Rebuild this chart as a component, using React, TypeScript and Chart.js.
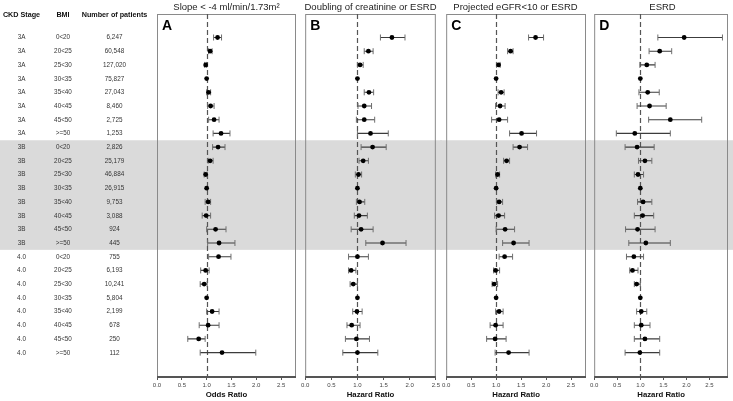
import React, { useEffect, useRef } from 'react';
import { Chart, registerables } from 'chart.js';

Chart.register(...registerables);

// ---------- data ----------
const stages = ['3A','3A','3A','3A','3A','3A','3A','3A','3B','3B','3B','3B','3B','3B','3B','3B','4.0','4.0','4.0','4.0','4.0','4.0','4.0','4.0'];
const bmiGroups = ['0<20','20<25','25<30','30<35','35<40','40<45','45<50','>=50','0<20','20<25','25<30','30<35','35<40','40<45','45<50','>=50','0<20','20<25','25<30','30<35','35<40','40<45','45<50','>=50'];
const patients = ['6,247','60,548','127,020','75,827','27,043','8,460','2,725','1,253','2,826','25,179','46,884','26,915','9,753','3,088','924','445','755','6,193','10,241','5,804','2,199','678','250','112'];

const slopeEst = [1.22,1.07,0.98,1,1.04,1.08,1.15,1.29, 1.23,1.07,0.98,1,1.03,0.99,1.18,1.25, 1.24,0.98,0.95,1,1.11,1.03,0.84,1.31];
const slopeLo = [1.14,1.04,0.96,null,1.00,1.02,1.04,1.13, 1.12,1.03,0.95,null,0.97,0.91,1.00,1.02, 1.04,0.88,0.87,null,1.00,0.85,0.62,0.87];
const slopeHi = [1.30,1.11,1.00,null,1.08,1.15,1.25,1.47, 1.37,1.13,1.01,null,1.08,1.08,1.39,1.57, 1.49,1.05,1.01,null,1.25,1.25,0.97,1.99];

const doublingEst = [1.66,1.21,1.05,1,1.22,1.13,1.13,1.25, 1.29,1.11,1.02,1,1.04,1.03,1.07,1.48, 1.0,0.88,0.92,1,0.99,0.89,0.98,1.0];
const doublingLo = [1.44,1.13,1.00,null,1.13,1.01,0.98,1.00, 1.07,1.03,0.96,null,0.98,0.94,0.88,1.16, 0.83,0.83,0.86,null,0.91,0.80,0.77,0.72];
const doublingHi = [1.91,1.30,1.11,null,1.31,1.27,1.33,1.59, 1.55,1.21,1.08,null,1.14,1.19,1.30,1.93, 1.21,0.97,1.00,null,1.09,1.05,1.23,1.39];

const egfrEst = [1.79,1.29,1.05,1,1.10,1.08,1.06,1.51, 1.47,1.21,1.03,1,1.06,1.05,1.18,1.35, 1.17,0.99,0.96,1,1.06,0.99,0.98,1.25];
const egfrLo = [1.65,1.23,1.01,null,1.04,0.99,0.91,1.27, 1.34,1.15,0.99,null,1.01,0.97,1.00,1.13, 1.06,0.95,0.92,null,0.99,0.88,0.81,0.98];
const egfrHi = [1.95,1.34,1.08,null,1.16,1.18,1.23,1.81, 1.63,1.27,1.07,null,1.13,1.17,1.37,1.66, 1.33,1.07,1.03,null,1.14,1.14,1.20,1.66];

const esrdEst = [1.95,1.42,1.14,1,1.16,1.20,1.65,0.88, 0.93,1.10,0.95,1,1.06,1.05,0.94,1.12, 0.86,0.83,0.92,1,1.02,1.02,1.10,0.99];
const esrdLo = [1.38,1.19,0.99,null,0.97,0.93,1.18,0.48, 0.67,0.96,0.87,null,0.94,0.87,0.68,0.75, 0.70,0.77,0.87,null,0.92,0.87,0.87,0.67];
const esrdHi = [2.78,1.68,1.32,null,1.41,1.56,2.33,1.65, 1.30,1.25,1.07,null,1.25,1.29,1.32,1.65, 1.07,0.95,1.00,null,1.14,1.21,1.42,1.42];

const headers = ['CKD Stage', 'BMI', 'Number of patients'];

// ---------- style ----------
const FONT = "'Liberation Sans', Arial, Helvetica, sans-serif";
const Y_MIN = -1.715;
const Y_MAX = 24.78;
const BAND = '#dadada';

type Panel = {
  letter: string;
  title: string;
  xTitle: string;
  est: number[];
  lo: (number | null)[];
  hi: (number | null)[];
  xMax: number;
  left: number;
  width: number;
  padL: number;
  padR: number;
  table?: boolean;
};

const panels: Panel[] = [
  { letter: 'A', title: 'Slope < -4 ml/min/1.73m\u00b2', xTitle: 'Odds Ratio', est: slopeEst, lo: slopeLo, hi: slopeHi, xMax: 2.8, left: 0, width: 301, padL: 157, padR: 5, table: true },
  { letter: 'B', title: 'Doubling of creatinine or ESRD', xTitle: 'Hazard Ratio', est: doublingEst, lo: doublingLo, hi: doublingHi, xMax: 2.5, left: 299, width: 143, padL: 5, padR: 5 },
  { letter: 'C', title: 'Projected eGFR<10 or ESRD', xTitle: 'Hazard Ratio', est: egfrEst, lo: egfrLo, hi: egfrHi, xMax: 2.8, left: 440, width: 151, padL: 5, padR: 5 },
  { letter: 'D', title: 'ESRD', xTitle: 'Hazard Ratio', est: esrdEst, lo: esrdLo, hi: esrdHi, xMax: 2.9, left: 588, width: 145, padL: 5, padR: 1 },
];

function buildDatasets(est: number[], lo: (number | null)[], hi: (number | null)[]) {
  const ci: any[] = [];
  const caps: any[] = [];
  const pts: any[] = [];
  est.forEach((v, i) => {
    pts.push({ x: v, y: i });
    const l = lo[i];
    const h = hi[i];
    if (l != null && h != null) {
      ci.push({ x: l, y: i }, { x: h, y: i }, { x: h, y: null });
      caps.push({ x: l, y: i }, { x: h, y: i });
    }
  });
  return [
    { type: 'line', data: ci, borderColor: '#3c3c3c', borderWidth: 1.1, pointRadius: 0, spanGaps: false, fill: false, order: 3 },
    { type: 'scatter', data: caps, pointStyle: 'line', pointRotation: 90, pointRadius: 3, pointBorderColor: '#6e6e6e', pointBorderWidth: 1, order: 2 },
    { type: 'scatter', data: pts, pointStyle: 'circle', pointRadius: 2.4, pointBackgroundColor: '#000', pointBorderColor: '#000', pointBorderWidth: 0, order: 1 },
  ];
}

function narrowText(ctx: CanvasRenderingContext2D, text: string, x: number, y: number, sx: number) {
  ctx.save();
  ctx.translate(x, y);
  ctx.scale(sx, 1);
  ctx.fillText(text, 0, 0);
  ctx.restore();
}

const decorPlugin = {
  id: 'decor',
  beforeDraw(chart: any) {
    const { ctx } = chart;
    const y = chart.scales.y;
    const y1 = y.getPixelForValue(7.5);
    const y2 = y.getPixelForValue(15.5);
    ctx.save();
    ctx.fillStyle = BAND;
    ctx.fillRect(0, y1, chart.width, y2 - y1);
    ctx.restore();
  },
  beforeDatasetsDraw(chart: any) {
    const { ctx, chartArea } = chart;
    const x = chart.scales.x;
    const { left, right, top, bottom } = chartArea;
    ctx.save();
    ctx.strokeStyle = '#8a8a8a';
    ctx.lineWidth = 1;
    ctx.strokeRect(left + 0.5, top + 0.5, right - left - 1, bottom - top);
    ctx.strokeStyle = '#555';
    ctx.lineWidth = 2;
    ctx.beginPath();
    ctx.moveTo(left, bottom);
    ctx.lineTo(right, bottom);
    ctx.stroke();
    const xp = Math.round(x.getPixelForValue(1)) + 0.5;
    ctx.strokeStyle = '#555';
    ctx.lineWidth = 1.2;
    ctx.setLineDash([5, 3]);
    ctx.beginPath();
    ctx.moveTo(xp, top);
    ctx.lineTo(xp, bottom);
    ctx.stroke();
    ctx.restore();
  },
  afterDraw(chart: any, _args: any, opts: any) {
    const { ctx, chartArea } = chart;
    ctx.save();
    ctx.fillStyle = '#000';
    ctx.font = `bold 14px ${FONT}`;
    ctx.textBaseline = 'alphabetic';
    ctx.textAlign = 'left';
    ctx.fillText(opts.letter, chartArea.left + 5, chartArea.top + 15.5);
    if (opts.table) {
      const y = chart.scales.y;
      const cols = [21.5, 63, 114.5];
      ctx.textAlign = 'center';
      ctx.textBaseline = 'middle';
      ctx.font = `bold 8px ${FONT}`;
      ctx.fillStyle = '#111';
      headers.forEach((h, k) => narrowText(ctx, h, cols[k], 14.5, 0.9));
      ctx.font = `7.2px ${FONT}`;
      ctx.fillStyle = '#333';
      stages.forEach((s, i) => {
        const yp = y.getPixelForValue(i);
        narrowText(ctx, s, cols[0], yp, 0.88);
        narrowText(ctx, bmiGroups[i], cols[1], yp, 0.88);
        narrowText(ctx, patients[i], cols[2], yp, 0.88);
      });
    }
    ctx.restore();
  },
};

function PanelChart({ p }: { p: Panel }) {
  const ref = useRef<HTMLCanvasElement | null>(null);
  useEffect(() => {
    if (!ref.current) return;
    const chart = new Chart(ref.current, {
      type: 'scatter',
      data: { datasets: buildDatasets(p.est, p.lo, p.hi) as any },
      options: {
        animation: false,
        responsive: false,
        devicePixelRatio: 1,
        events: [],
        layout: { padding: { left: p.padL, right: p.padR, top: 0, bottom: 0 } },
        plugins: {
          legend: { display: false },
          tooltip: { enabled: false },
          title: {
            display: true,
            text: p.title,
            color: '#222',
            font: { size: 9.5, family: FONT, weight: 'normal' as any, lineHeight: 1.2 },
            padding: { top: 1.3, bottom: 1.3 },
          },
          decor: { letter: p.letter, table: !!p.table },
        } as any,
        scales: {
          x: {
            type: 'linear',
            min: 0,
            max: p.xMax,
            border: { display: false },
            grid: { display: true, drawOnChartArea: false, drawTicks: true, tickLength: 3, color: '#555' },
            ticks: {
              stepSize: 0.5,
              includeBounds: false,
              autoSkip: false,
              maxRotation: 0,
              padding: 2,
              color: '#444',
              font: { size: 6, family: FONT },
              callback: (v: any) => Number(v).toFixed(1),
            },
            title: {
              display: true,
              text: p.xTitle,
              color: '#111',
              font: { size: 7.8, family: FONT, weight: 'bold' as any },
              padding: { top: 1, bottom: 1 },
            },
            afterFit: (s: any) => { s.height = 24; },
          },
          y: { type: 'linear', min: Y_MIN, max: Y_MAX, reverse: true, display: false },
        },
      } as any,
      plugins: [decorPlugin],
    });
    return () => chart.destroy();
  }, [p]);
  return (
    <canvas
      ref={ref}
      width={p.width}
      height={401}
      style={{ position: 'absolute', left: p.left, top: 0, width: p.width, height: 401 }}
    />
  );
}

export default function App() {
  return (
    <div style={{ position: 'fixed', left: 0, top: 0, width: 733, height: 401, background: '#fff', overflow: 'hidden' }}>
      {panels.map((p) => (
        <PanelChart key={p.letter} p={p} />
      ))}
    </div>
  );
}
